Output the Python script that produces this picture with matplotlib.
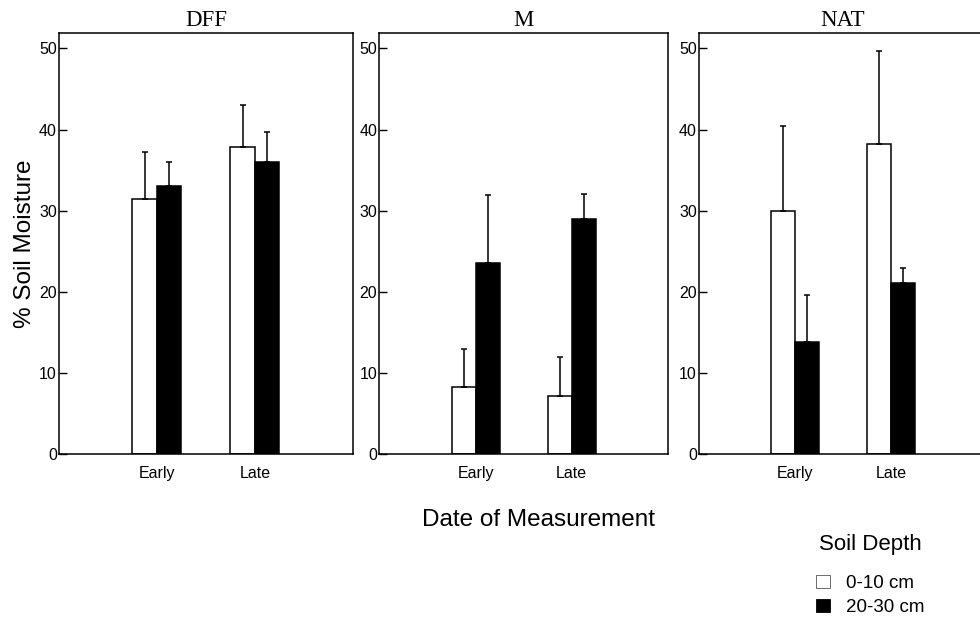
import matplotlib
matplotlib.use("Agg")
import matplotlib.pyplot as plt
import numpy as np

plt.rcParams["font.family"] = ["Liberation Sans", "DejaVu Sans"]

panels = ["DFF", "M", "NAT"]
dates = ["Early", "Late"]

# mean % soil moisture and upper error, per site, for Early / Late
shallow = {"DFF": [31.4, 37.8], "M": [8.2, 7.2], "NAT": [29.9, 38.2]}
shallow_err = {"DFF": [5.8, 5.2], "M": [4.8, 4.8], "NAT": [10.5, 11.5]}
deep = {"DFF": [33.0, 36.0], "M": [23.5, 29.0], "NAT": [13.8, 21.1]}
deep_err = {"DFF": [3.0, 3.7], "M": [8.4, 3.1], "NAT": [5.8, 1.8]}

depth_labels = ["0-10 cm", "20-30 cm"]

fig = plt.figure(figsize=(9.8, 6.19), dpi=100, facecolor="white")

lefts = [0.0602, 0.3872, 0.7133]
widths = [0.300, 0.2944, 0.2939]
h_ax, bottom = 0.680, 0.2666
x = np.arange(len(dates))
bw = 0.25
err_kw = dict(ecolor="black", elinewidth=1.1, capsize=2.2, capthick=1.1)

handles = []
for i, name in enumerate(panels):
    ax = fig.add_axes([lefts[i], bottom, widths[i], h_ax])
    lo = [0, 0]
    b1 = ax.bar(x - bw / 2, shallow[name], bw, color="white", edgecolor="black",
                linewidth=1.1, yerr=[lo, shallow_err[name]], error_kw=err_kw, zorder=2)
    b2 = ax.bar(x + bw / 2, deep[name], bw, color="black", edgecolor="black",
                linewidth=1.1, yerr=[lo, deep_err[name]], error_kw=err_kw, zorder=2)
    if i == 0:
        handles = [b1, b2]
    ax.set_xlim(-1, 2)
    ax.set_ylim(0, 51.9)
    ax.set_yticks([0, 10, 20, 30, 40, 50])
    ax.set_xticks(x)
    ax.set_xticklabels(dates)
    ax.tick_params(axis="y", direction="in", length=6, width=1.0, pad=1.5,
                   labelsize=11.5)
    ax.tick_params(axis="x", length=0, pad=9, labelsize=11.5)
    for sp in ax.spines.values():
        sp.set_linewidth(1.1)
    ax.set_title(name, fontfamily="Liberation Serif", fontsize=16.5, pad=5)
    if i == 0:
        ax.set_ylabel("% Soil Moisture", fontsize=17.5, labelpad=2)

fig.text(0.549, 1 - 520 / 619, "Date of Measurement", ha="center", va="center",
         fontsize=17.5)

leg = fig.legend(handles, depth_labels, title="Soil Depth", loc="center",
                 bbox_to_anchor=(0.888, 1 - 575 / 619), frameon=False,
                 fontsize=13.5, title_fontsize=16, handlelength=0.75,
                 handleheight=0.75, handletextpad=0.9, labelspacing=0.35)
leg._legend_box.sep = 14
for p in leg.get_patches():
    p.set_linewidth(0.6)
leg.get_patches()[0].set_edgecolor("#555555")

fig.savefig("out.png", dpi=100, facecolor="white")
